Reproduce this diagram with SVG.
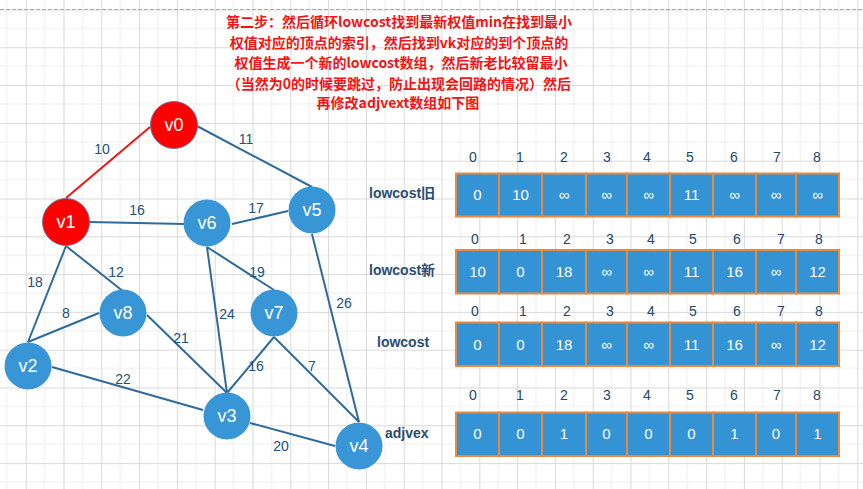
<svg xmlns="http://www.w3.org/2000/svg" width="863" height="489" viewBox="0 0 863 489">
<style>
.title{font-family:"Noto Sans CJK SC","Liberation Sans",sans-serif;font-size:14px;font-weight:bold;fill:#f21414;text-anchor:middle}
.edge{stroke:#2e6b9c;stroke-width:2;fill:none}
.edge-red{stroke:#f01515;stroke-width:2;fill:none}
.elabel{font-family:"Liberation Sans",sans-serif;font-size:14px;fill:#23507a;text-anchor:middle}
.node{fill:#3895d6}
.node-red{fill:#ff0000;stroke:#7d6a99;stroke-width:1}
.nlabel{font-family:"Liberation Sans",sans-serif;font-size:18px;fill:#ffffff;text-anchor:middle}
.cell{fill:#3493d5;stroke:#ea8a3f;stroke-width:2}
.cval{font-family:"Liberation Sans",sans-serif;font-size:15px;fill:#ffffff;text-anchor:middle}
.idx{font-family:"Liberation Sans",sans-serif;font-size:14px;fill:#23476b;text-anchor:middle}
.rlabel{font-family:"Liberation Sans","Noto Sans CJK SC",sans-serif;font-size:14px;font-weight:bold;fill:#2a4d70}
</style>
<defs>
<pattern id="grid" x="25.7" y="9.5" width="37.8" height="37.8" patternUnits="userSpaceOnUse">
<path d="M18.9 0V37.8M0 18.9H37.8" stroke="#eeeeee" stroke-width="1" fill="none"/>
<path d="M0.5 0V37.8M0 0.5H37.8" stroke="#d9d9d9" stroke-width="1" fill="none"/>
</pattern>
</defs>
<rect width="863" height="489" fill="#ffffff"/>
<rect width="863" height="489" fill="url(#grid)"/>
<line x1="0" y1="9.5" x2="863" y2="9.5" stroke="#aaaaaa" stroke-width="1" stroke-dasharray="4 2"/>

<g id="title">
<text class="title" x="399" y="27">第二步：然后循环lowcost找到最新权值min在找到最小</text>
<text class="title" x="399" y="48">权值对应的顶点的索引，然后找到vk对应的到个顶点的</text>
<text class="title" x="401" y="68">权值生成一个新的lowcost数组，然后新老比较留最小</text>
<text class="title" x="399" y="89">（当然为0的时候要跳过，防止出现会回路的情况）然后</text>
<text class="title" x="398" y="108">再修改adjvext数组如下图</text>
</g>

<g id="connectors">
<line class="edge-red" x1="150" y1="127" x2="66" y2="198"/>
<line class="edge" x1="197" y1="126" x2="312" y2="187"/>
<line class="edge" x1="90" y1="222" x2="184" y2="224"/>
<line class="edge" x1="232" y1="224" x2="288" y2="211"/>
<line class="edge" x1="66" y1="246" x2="124" y2="292"/>
<line class="edge" x1="66" y1="246" x2="28" y2="342"/>
<line class="edge" x1="99" y1="313" x2="28" y2="342"/>
<line class="edge" x1="147" y1="315" x2="227" y2="393"/>
<line class="edge" x1="207" y1="247" x2="227" y2="393"/>
<line class="edge" x1="207" y1="247" x2="274" y2="290"/>
<line class="edge" x1="274" y1="337" x2="227" y2="393"/>
<line class="edge" x1="274" y1="337" x2="359" y2="422"/>
<line class="edge" x1="312" y1="234" x2="359" y2="422"/>
<line class="edge" x1="52" y1="367" x2="203" y2="410"/>
<line class="edge" x1="250" y1="423" x2="335" y2="446"/>
<text class="elabel" x="102" y="154">10</text>
<text class="elabel" x="246" y="144">11</text>
<text class="elabel" x="137" y="215">16</text>
<text class="elabel" x="256" y="213">17</text>
<text class="elabel" x="116" y="277">12</text>
<text class="elabel" x="35" y="287">18</text>
<text class="elabel" x="66" y="318">8</text>
<text class="elabel" x="181" y="343">21</text>
<text class="elabel" x="227" y="319">24</text>
<text class="elabel" x="257" y="277">19</text>
<text class="elabel" x="256" y="371">16</text>
<text class="elabel" x="312" y="371">7</text>
<text class="elabel" x="344" y="308">26</text>
<text class="elabel" x="123" y="384">22</text>
<text class="elabel" x="281" y="451">20</text>
</g>

<g id="v0"><circle class="node-red" cx="174" cy="125" r="23.5"/><text class="nlabel" x="174" y="131">v0</text></g>
<g id="v1"><circle class="node-red" cx="66" cy="222" r="23.5"/><text class="nlabel" x="66" y="228">v1</text></g>
<g id="v6"><circle class="node" cx="207" cy="223" r="23.5"/><text class="nlabel" x="207" y="229">v6</text></g>
<g id="v5"><circle class="node" cx="312" cy="210" r="23.5"/><text class="nlabel" x="312" y="216">v5</text></g>
<g id="v8"><circle class="node" cx="123" cy="313" r="23.5"/><text class="nlabel" x="123" y="319">v8</text></g>
<g id="v7"><circle class="node" cx="274" cy="313" r="23.5"/><text class="nlabel" x="274" y="319">v7</text></g>
<g id="v2"><circle class="node" cx="28" cy="366" r="23.5"/><text class="nlabel" x="28" y="372">v2</text></g>
<g id="v3"><circle class="node" cx="227" cy="416" r="23.5"/><text class="nlabel" x="227" y="422">v3</text></g>
<g id="v4"><circle class="node" cx="359" cy="446" r="23.5"/><text class="nlabel" x="359" y="452">v4</text></g>

<g id="row-lowcost-old">
<text class="rlabel" x="369" y="198">lowcost旧</text>
<g class="idxs">
<text class="idx" x="473" y="162">0</text><text class="idx" x="520" y="162">1</text><text class="idx" x="564" y="162">2</text><text class="idx" x="607" y="162">3</text><text class="idx" x="647" y="162">4</text><text class="idx" x="690" y="162">5</text><text class="idx" x="734" y="162">6</text><text class="idx" x="777" y="162">7</text><text class="idx" x="817" y="162">8</text>
</g>
<rect class="cell" x="456" y="173.5" width="43" height="43"/><rect class="cell" x="499" y="173.5" width="43" height="43"/><rect class="cell" x="542" y="173.5" width="44" height="43"/><rect class="cell" x="586" y="173.5" width="41" height="43"/><rect class="cell" x="627" y="173.5" width="43" height="43"/><rect class="cell" x="670" y="173.5" width="43" height="43"/><rect class="cell" x="713" y="173.5" width="43" height="43"/><rect class="cell" x="756" y="173.5" width="40" height="43"/><rect class="cell" x="796" y="173.5" width="43" height="43"/>
<text class="cval" x="477.5" y="200">0</text><text class="cval" x="520.5" y="200">10</text><text class="cval" x="564" y="200">∞</text><text class="cval" x="606.5" y="200">∞</text><text class="cval" x="648.5" y="200">∞</text><text class="cval" x="691.5" y="200">11</text><text class="cval" x="734.5" y="200">∞</text><text class="cval" x="776" y="200">∞</text><text class="cval" x="817.5" y="200">∞</text>
</g>

<g id="row-lowcost-new">
<text class="rlabel" x="369" y="275">lowcost新</text>
<text class="idx" x="475" y="244">0</text><text class="idx" x="523" y="244">1</text><text class="idx" x="567" y="244">2</text><text class="idx" x="610" y="244">3</text><text class="idx" x="651" y="244">4</text><text class="idx" x="693" y="244">5</text><text class="idx" x="737" y="244">6</text><text class="idx" x="781" y="244">7</text><text class="idx" x="819" y="244">8</text>
<rect class="cell" x="456" y="250" width="43" height="43.5"/><rect class="cell" x="499" y="250" width="43" height="43.5"/><rect class="cell" x="542" y="250" width="44" height="43.5"/><rect class="cell" x="586" y="250" width="41" height="43.5"/><rect class="cell" x="627" y="250" width="43" height="43.5"/><rect class="cell" x="670" y="250" width="43" height="43.5"/><rect class="cell" x="713" y="250" width="43" height="43.5"/><rect class="cell" x="756" y="250" width="40" height="43.5"/><rect class="cell" x="796" y="250" width="43" height="43.5"/>
<text class="cval" x="477.5" y="277">10</text><text class="cval" x="520.5" y="277">0</text><text class="cval" x="564" y="277">18</text><text class="cval" x="606.5" y="277">∞</text><text class="cval" x="648.5" y="277">∞</text><text class="cval" x="691.5" y="277">11</text><text class="cval" x="734.5" y="277">16</text><text class="cval" x="776" y="277">∞</text><text class="cval" x="817.5" y="277">12</text>
</g>

<g id="row-lowcost">
<text class="rlabel" x="377" y="347">lowcost</text>
<text class="idx" x="475" y="316">0</text><text class="idx" x="523" y="316">1</text><text class="idx" x="567" y="316">2</text><text class="idx" x="610" y="316">3</text><text class="idx" x="651" y="316">4</text><text class="idx" x="693" y="316">5</text><text class="idx" x="737" y="316">6</text><text class="idx" x="781" y="316">7</text><text class="idx" x="819" y="316">8</text>
<rect class="cell" x="456" y="322.5" width="43" height="43.5"/><rect class="cell" x="499" y="322.5" width="43" height="43.5"/><rect class="cell" x="542" y="322.5" width="44" height="43.5"/><rect class="cell" x="586" y="322.5" width="41" height="43.5"/><rect class="cell" x="627" y="322.5" width="43" height="43.5"/><rect class="cell" x="670" y="322.5" width="43" height="43.5"/><rect class="cell" x="713" y="322.5" width="43" height="43.5"/><rect class="cell" x="756" y="322.5" width="40" height="43.5"/><rect class="cell" x="796" y="322.5" width="43" height="43.5"/>
<text class="cval" x="477.5" y="349.5">0</text><text class="cval" x="520.5" y="349.5">0</text><text class="cval" x="564" y="349.5">18</text><text class="cval" x="606.5" y="349.5">∞</text><text class="cval" x="648.5" y="349.5">∞</text><text class="cval" x="691.5" y="349.5">11</text><text class="cval" x="734.5" y="349.5">16</text><text class="cval" x="776" y="349.5">∞</text><text class="cval" x="817.5" y="349.5">12</text>
</g>

<g id="row-adjvex">
<text class="rlabel" x="385" y="438">adjvex</text>
<text class="idx" x="473" y="400">0</text><text class="idx" x="520" y="400">1</text><text class="idx" x="564" y="400">2</text><text class="idx" x="607" y="400">3</text><text class="idx" x="647" y="400">4</text><text class="idx" x="690" y="400">5</text><text class="idx" x="734" y="400">6</text><text class="idx" x="777" y="400">7</text><text class="idx" x="817" y="400">8</text>
<rect class="cell" x="456" y="412.5" width="43" height="43.5"/><rect class="cell" x="499" y="412.5" width="43" height="43.5"/><rect class="cell" x="542" y="412.5" width="44" height="43.5"/><rect class="cell" x="586" y="412.5" width="41" height="43.5"/><rect class="cell" x="627" y="412.5" width="43" height="43.5"/><rect class="cell" x="670" y="412.5" width="43" height="43.5"/><rect class="cell" x="713" y="412.5" width="43" height="43.5"/><rect class="cell" x="756" y="412.5" width="40" height="43.5"/><rect class="cell" x="796" y="412.5" width="43" height="43.5"/>
<text class="cval" x="477.5" y="439">0</text><text class="cval" x="520.5" y="439">0</text><text class="cval" x="564" y="439">1</text><text class="cval" x="606.5" y="439">0</text><text class="cval" x="648.5" y="439">0</text><text class="cval" x="691.5" y="439">0</text><text class="cval" x="734.5" y="439">1</text><text class="cval" x="776" y="439">0</text><text class="cval" x="817.5" y="439">1</text>
</g>
</svg>
